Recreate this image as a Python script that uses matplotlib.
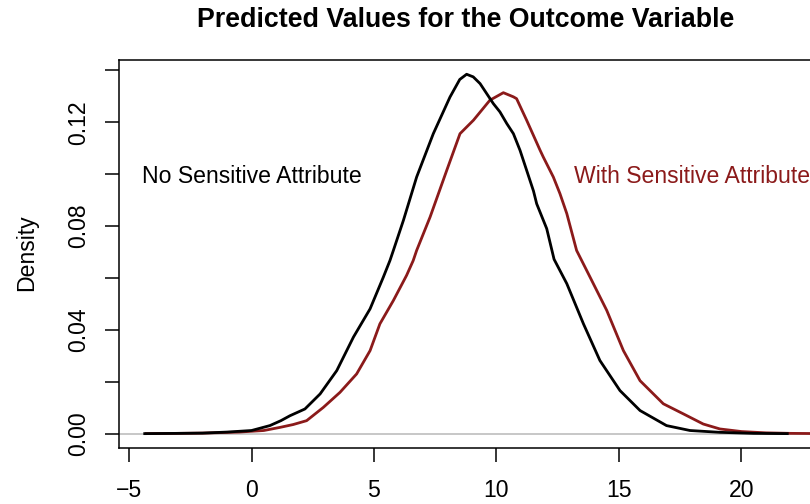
import matplotlib
matplotlib.use("Agg")
import matplotlib.pyplot as plt

plt.rcParams['font.family'] = ['Liberation Sans', 'DejaVu Sans']

# density estimate, model without the sensitive attribute
x_no = [-4.36, -3.0, -2.0, -1.0, 0.0, 0.75, 1.2, 1.57, 2.18, 2.8, 3.48, 4.16,
        4.84, 5.38, 5.65, 5.79, 6.2, 6.74, 7.42, 8.1, 8.5, 8.78, 9.05, 9.33,
        9.87, 10.14, 10.42, 10.69, 10.96, 11.23, 11.51, 11.64, 12.05, 12.35,
        12.87, 13.55, 14.22, 15.04, 15.86, 16.94, 17.9, 19.12, 20.5, 21.87]
y_no = [0.0, 0.0001, 0.0002, 0.0006, 0.0012, 0.0031, 0.005, 0.0069, 0.0095,
        0.0153, 0.0243, 0.0372, 0.0481, 0.0603, 0.0667, 0.0706, 0.0822,
        0.0989, 0.1156, 0.1297, 0.1365, 0.1385, 0.1375, 0.1349, 0.1272,
        0.124, 0.1195, 0.1156, 0.1092, 0.1015, 0.0935, 0.0886, 0.079,
        0.0672, 0.0578, 0.0423, 0.0282, 0.0166, 0.0089, 0.0031, 0.0012,
        0.0005, 0.0001, 0.0]

# density estimate, model with the sensitive attribute
x_with = [-4.3, -3.0, -2.0, -0.5, 0.5, 1.16, 1.7, 2.25, 2.93, 3.61, 4.29,
          4.84, 5.24, 5.79, 6.33, 6.6, 6.74, 7.29, 7.97, 8.51, 9.06, 9.73,
          10.28, 10.69, 10.82, 11.23, 11.78, 11.91, 12.32, 12.59,
          12.87, 13.27, 13.82, 14.5, 15.18, 15.86, 16.81, 17.63, 18.44,
          19.12, 20.0, 21.0, 22.0, 23.5]
y_with = [0.0, 0.0001, 0.0002, 0.0006, 0.0012, 0.0024, 0.0035, 0.005, 0.0101,
          0.0159, 0.023, 0.032, 0.0423, 0.0513, 0.061, 0.0667, 0.0706,
          0.0835, 0.1015, 0.1156, 0.1208, 0.1285, 0.1314, 0.1298, 0.1291,
          0.1208, 0.1092, 0.1066, 0.0989, 0.0925, 0.0848, 0.0706,
          0.0603, 0.0475, 0.032, 0.0204, 0.0115, 0.0076, 0.0037, 0.0018,
          0.0008, 0.0003, 0.0001, 0.0]

xticks = [-5, 0, 5, 10, 15, 20]
yticks = [0.0, 0.02, 0.04, 0.06, 0.08, 0.10, 0.12, 0.14]
ylabels = ['0.00', '', '0.04', '', '0.08', '', '0.12', '']

red = '#8B1A1A'

fig = plt.figure(figsize=(8.1, 5.04), dpi=100)
ax = fig.add_axes([119 / 810, 56 / 504, 694 / 810, 388 / 504])

ax.axhline(0, color='#BEBEBE', lw=1.2, zorder=1)
ax.plot(x_no, y_no, color='black', lw=2.0, zorder=3)
ax.plot(x_with, y_with, color=red, lw=2.0, zorder=2)

ax.text(0, 0.1, 'No Sensitive Attribute', ha='center', va='center_baseline',
        fontsize=16.6)
ax.text(18, 0.1, 'With Sensitive Attribute', ha='center',
        va='center_baseline', fontsize=16.6, color=red)

ax.set_xlim(-5.41, 22.92)
ax.set_ylim(-0.00554, 0.1440)
ax.set_xticks(xticks)
ax.set_xticklabels([str(t) if t >= 0 else '\u2212' + str(-t) for t in xticks])
ax.set_yticks(yticks)
ax.set_yticklabels(ylabels, rotation=90, va='center')
ax.tick_params(axis='both', labelsize=16.6, length=10, width=1.1)
ax.tick_params(axis='x', pad=12)
ax.tick_params(axis='y', pad=11)
for s in ax.spines.values():
    s.set_linewidth(1.1)

fig.text(0.575, 1 - 20 / 504, 'Predicted Values for the Outcome Variable',
         ha='center', va='center', fontsize=19.3, fontweight='bold')
fig.text(27 / 810, 1 - 253 / 504, 'Density', ha='center', va='center',
         rotation=90, fontsize=16.6)

fig.savefig('out.png', dpi=100)
